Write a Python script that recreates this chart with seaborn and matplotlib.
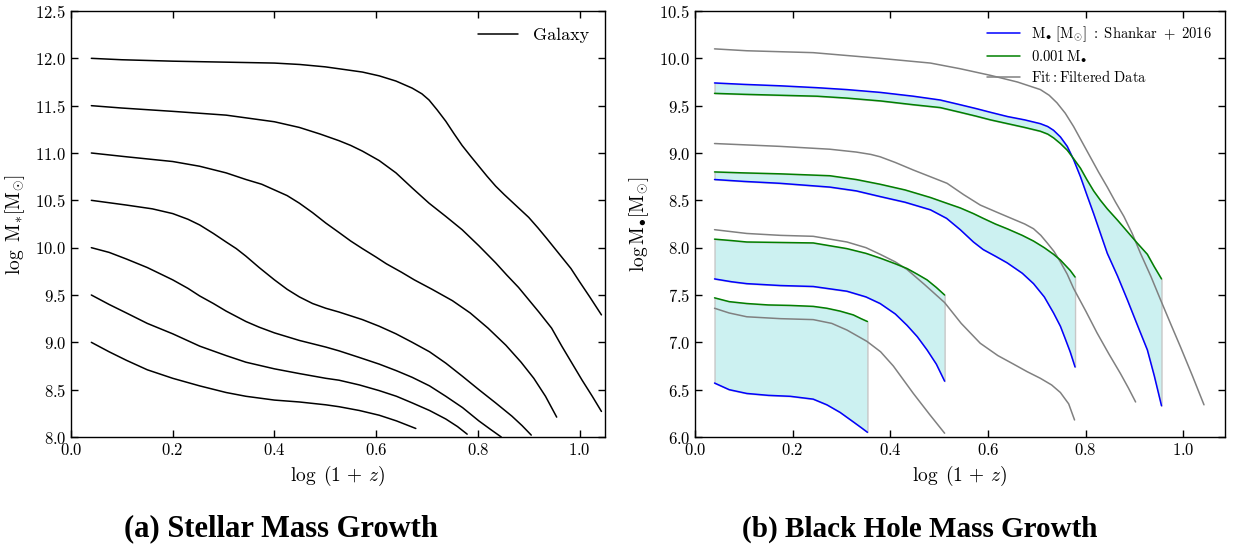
import numpy as np
import pandas as pd
import matplotlib
matplotlib.use("Agg")
import matplotlib.pyplot as plt
import seaborn as sns

# ---------------- data: (a) stellar mass growth ----------------
c1_x = [0.04, 0.1, 0.2, 0.3, 0.4, 0.45, 0.5, 0.54, 0.573, 0.606, 0.639, 0.671, 0.69, 0.704, 0.72, 0.737,
        0.753, 0.769, 0.786, 0.802, 0.818, 0.835, 0.852, 0.868, 0.884, 0.9, 0.918, 0.935, 0.95, 0.965,
        0.983, 1.0, 1.02, 1.043]
c1_y = [12.0, 11.985, 11.97, 11.96, 11.95, 11.935, 11.91, 11.88, 11.855, 11.815, 11.76, 11.685, 11.625,
        11.56, 11.455, 11.335, 11.205, 11.08, 10.965, 10.86, 10.755, 10.65, 10.56, 10.48, 10.4, 10.32, 10.21,
        10.1, 10.0, 9.9, 9.78, 9.64, 9.48, 9.29]
c2_x = [0.04, 0.1, 0.2, 0.305, 0.4, 0.449, 0.49, 0.527, 0.55, 0.573, 0.606, 0.639, 0.671, 0.704, 0.737,
        0.769, 0.802, 0.835, 0.857, 0.88, 0.9, 0.92, 0.945, 0.965, 0.985, 1.005, 1.025, 1.043]
c2_y = [11.5, 11.475, 11.44, 11.4, 11.33, 11.27, 11.2, 11.13, 11.08, 11.02, 10.92, 10.79, 10.63, 10.47,
        10.33, 10.19, 10.02, 9.84, 9.71, 9.58, 9.45, 9.32, 9.15, 8.96, 8.78, 8.6, 8.43, 8.27]
c3_x = [0.04, 0.109, 0.2, 0.253, 0.305, 0.344, 0.375, 0.4, 0.425, 0.449, 0.475, 0.501, 0.527, 0.55, 0.573,
        0.6, 0.62, 0.65, 0.675, 0.71, 0.75, 0.785, 0.82, 0.855, 0.885, 0.91, 0.933, 0.955]
c3_y = [11.0, 10.96, 10.91, 10.86, 10.79, 10.72, 10.67, 10.61, 10.55, 10.47, 10.37, 10.26, 10.16, 10.07,
        9.99, 9.9, 9.83, 9.74, 9.66, 9.56, 9.44, 9.31, 9.15, 8.97, 8.79, 8.62, 8.43, 8.21]
c4_x = [0.04, 0.109, 0.16, 0.2, 0.23, 0.253, 0.28, 0.305, 0.325, 0.344, 0.37, 0.4, 0.425, 0.449, 0.475,
        0.501, 0.527, 0.573, 0.606, 0.639, 0.671, 0.705, 0.737, 0.77, 0.802, 0.835, 0.867, 0.887, 0.905]
c4_y = [10.5, 10.45, 10.41, 10.36, 10.3, 10.24, 10.15, 10.06, 9.99, 9.91, 9.79, 9.66, 9.56, 9.48, 9.41,
        9.36, 9.32, 9.24, 9.17, 9.09, 9.0, 8.9, 8.78, 8.64, 8.5, 8.36, 8.22, 8.12, 8.02]
c5_x = [0.04, 0.075, 0.109, 0.15, 0.2, 0.23, 0.253, 0.28, 0.305, 0.344, 0.37, 0.4, 0.449, 0.501, 0.527,
        0.567, 0.606, 0.64, 0.671, 0.705, 0.737, 0.77, 0.802, 0.825, 0.846]
c5_y = [10.0, 9.95, 9.88, 9.79, 9.66, 9.57, 9.49, 9.41, 9.33, 9.22, 9.16, 9.1, 9.02, 8.95, 8.91,
        8.84, 8.77, 8.7, 8.63, 8.54, 8.43, 8.31, 8.17, 8.08, 8.0]
c6_x = [0.04, 0.075, 0.109, 0.15, 0.2, 0.253, 0.305, 0.344, 0.4, 0.449, 0.501, 0.527, 0.567, 0.606, 0.64,
        0.671, 0.705, 0.737, 0.76, 0.779]
c6_y = [9.5, 9.4, 9.31, 9.2, 9.09, 8.96, 8.86, 8.79, 8.72, 8.67, 8.62, 8.6, 8.55, 8.49, 8.43,
        8.36, 8.28, 8.19, 8.11, 8.03]
c7_x = [0.04, 0.075, 0.109, 0.15, 0.2, 0.253, 0.305, 0.344, 0.4, 0.449, 0.501, 0.527, 0.567, 0.606, 0.64, 0.678]
c7_y = [9.0, 8.9, 8.81, 8.71, 8.62, 8.54, 8.47, 8.43, 8.39, 8.37, 8.34, 8.32, 8.28, 8.23, 8.17, 8.09]

galaxy_curves = [(c1_x, c1_y), (c2_x, c2_y), (c3_x, c3_y), (c4_x, c4_y),
                 (c5_x, c5_y), (c6_x, c6_y), (c7_x, c7_y)]

# ---------------- data: (b) black hole mass growth ----------------
g1_x = [0.04, 0.1, 0.174, 0.25, 0.311, 0.38, 0.447, 0.502, 0.543, 0.575, 0.605, 0.64, 0.675, 0.707, 0.722,
        0.734, 0.748, 0.762, 0.775, 0.789, 0.802, 0.816, 0.83, 0.844, 0.865, 0.885, 0.905, 0.926, 0.94, 0.955]
g1_blue = [9.74, 9.725, 9.71, 9.69, 9.67, 9.64, 9.60, 9.56, 9.51, 9.47, 9.43, 9.385, 9.35, 9.31, 9.28,
           9.24, 9.17, 9.07, 8.93, 8.75, 8.56, 8.36, 8.15, 7.94, 7.7, 7.45, 7.19, 6.92, 6.65, 6.33]
g1_green = [9.63, 9.62, 9.61, 9.60, 9.58, 9.55, 9.51, 9.48, 9.43, 9.39, 9.35, 9.31, 9.27, 9.23, 9.20,
            9.16, 9.1, 9.03, 8.94, 8.84, 8.72, 8.60, 8.5, 8.41, 8.29, 8.17, 8.05, 7.93, 7.8, 7.67]
g1_fit_x = [0.04, 0.106, 0.242, 0.379, 0.482, 0.543, 0.605, 0.66, 0.707, 0.725, 0.741, 0.758, 0.775, 0.792,
            0.809, 0.826, 0.844, 0.861, 0.878, 0.895, 0.912, 0.933, 0.953, 0.975, 0.994, 1.018, 1.042]
g1_fit = [10.1, 10.08, 10.06, 10.0, 9.95, 9.89, 9.82, 9.75, 9.67, 9.61, 9.53, 9.42, 9.28, 9.12,
          8.96, 8.80, 8.64, 8.48, 8.33, 8.15, 7.94, 7.7, 7.45, 7.18, 6.95, 6.65, 6.34]

g2_x = [0.04, 0.1, 0.174, 0.276, 0.33, 0.379, 0.43, 0.482, 0.515, 0.543, 0.570, 0.59, 0.615, 0.639, 0.67,
        0.693, 0.715, 0.734, 0.748, 0.757, 0.768, 0.778]
g2_blue = [8.72, 8.70, 8.68, 8.64, 8.60, 8.54, 8.48, 8.40, 8.31, 8.19, 8.06, 7.98, 7.91, 7.84, 7.73,
           7.62, 7.48, 7.31, 7.17, 7.05, 6.9, 6.74]
g2_green = [8.80, 8.79, 8.78, 8.76, 8.72, 8.67, 8.61, 8.53, 8.47, 8.42, 8.36, 8.31, 8.25, 8.20, 8.13,
            8.07, 8.00, 7.93, 7.87, 7.82, 7.76, 7.69]
g2_fit_x = [0.04, 0.174, 0.276, 0.33, 0.36, 0.379, 0.41, 0.447, 0.516, 0.55, 0.584, 0.62, 0.652, 0.675,
            0.693, 0.708, 0.721, 0.735, 0.748, 0.762, 0.775, 0.8, 0.823, 0.847, 0.871, 0.887, 0.902]
g2_fit = [9.1, 9.07, 9.04, 9.01, 8.985, 8.96, 8.9, 8.82, 8.68, 8.56, 8.45, 8.37, 8.30, 8.25,
          8.2, 8.13, 8.05, 7.96, 7.85, 7.72, 7.57, 7.33, 7.1, 6.88, 6.67, 6.52, 6.37]

g3_x = [0.04, 0.075, 0.106, 0.175, 0.242, 0.311, 0.35, 0.379, 0.41, 0.434, 0.455, 0.475, 0.494, 0.511]
g3_blue = [7.67, 7.64, 7.62, 7.60, 7.59, 7.54, 7.48, 7.41, 7.30, 7.18, 7.06, 6.92, 6.77, 6.59]
g3_green = [8.09, 8.075, 8.06, 8.055, 8.05, 7.99, 7.94, 7.89, 7.83, 7.78, 7.72, 7.66, 7.58, 7.50]
g3_fit_x = [0.04, 0.106, 0.175, 0.242, 0.311, 0.35, 0.379, 0.41, 0.434, 0.47, 0.511, 0.545, 0.584, 0.62,
            0.652, 0.68, 0.707, 0.73, 0.748, 0.765, 0.777]
g3_fit = [8.19, 8.15, 8.13, 8.12, 8.06, 8.0, 7.93, 7.85, 7.77, 7.61, 7.42, 7.2, 6.99, 6.86,
          6.77, 6.69, 6.62, 6.55, 6.47, 6.35, 6.18]

g4_x = [0.04, 0.07, 0.106, 0.15, 0.195, 0.242, 0.27, 0.297, 0.324, 0.34, 0.353]
g4_blue = [6.57, 6.5, 6.46, 6.44, 6.43, 6.40, 6.34, 6.26, 6.16, 6.1, 6.05]
g4_green = [7.47, 7.43, 7.41, 7.395, 7.39, 7.38, 7.36, 7.33, 7.29, 7.25, 7.22]
g4_fit_x = [0.04, 0.07, 0.106, 0.175, 0.242, 0.28, 0.311, 0.352, 0.38, 0.406, 0.447, 0.48, 0.511]
g4_fit = [7.36, 7.31, 7.27, 7.25, 7.24, 7.2, 7.13, 7.01, 6.9, 6.75, 6.46, 6.24, 6.04]

bh_groups = [(g1_x, g1_blue, g1_green, g1_fit_x, g1_fit),
             (g2_x, g2_blue, g2_green, g2_fit_x, g2_fit),
             (g3_x, g3_blue, g3_green, g3_fit_x, g3_fit),
             (g4_x, g4_blue, g4_green, g4_fit_x, g4_fit)]

left_yticks = [8.0, 8.5, 9.0, 9.5, 10.0, 10.5, 11.0, 11.5, 12.0, 12.5]
right_yticks = [6.0, 6.5, 7.0, 7.5, 8.0, 8.5, 9.0, 9.5, 10.0, 10.5]
xticks = [0.0, 0.2, 0.4, 0.6, 0.8, 1.0]

# ---------------- style ----------------
sns.set_style("ticks")
plt.rcParams.update({
    "font.family": "serif",
    "font.serif": ["cmr10", "DejaVu Serif"],
    "mathtext.fontset": "cm",
    "axes.formatter.use_mathtext": True,
    "axes.linewidth": 1.0,
    "axes.edgecolor": "black",
    "axes.labelcolor": "black",
    "text.color": "black",
    "xtick.direction": "in",
    "ytick.direction": "in",
    "xtick.top": True,
    "ytick.right": True,
    "xtick.major.size": 5,
    "ytick.major.size": 5,
    "xtick.color": "black",
    "ytick.color": "black",
    "axes.unicode_minus": False,
})

fig = plt.figure(figsize=(12.35, 5.5), dpi=100)
axL = fig.add_axes([71 / 1235, 1 - 437 / 550, (605 - 71) / 1235, (437 - 11) / 550])
axR = fig.add_axes([695 / 1235, 1 - 437 / 550, (1225 - 695) / 1235, (437 - 11) / 550])

# left panel
for i, (cx, cy) in enumerate(galaxy_curves):
    df = pd.DataFrame({"x": cx, "y": cy})
    sns.lineplot(data=df, x="x", y="y", ax=axL, color="black", lw=1.1,
                 sort=False, estimator=None, label="Galaxy" if i == 0 else None)

axL.set_xlim(0, 1.05)
axL.set_ylim(8.0, 12.5)
axL.set_xticks(xticks)
axL.set_yticks(left_yticks)
axL.set_xlabel(r"$\log\ (1\,+\,z)$", fontsize=14, labelpad=4)
axL.set_ylabel(r"$\log\ \mathrm{M}_{*}[\mathrm{M}_{\odot}]$", fontsize=14, labelpad=6)
axL.legend(loc="upper right", frameon=False, fontsize=13, handlelength=2.2)

# right panel
fill_face = (0.80, 0.945, 0.945)
for i, (gx, gb, gg, fx, fy) in enumerate(bh_groups):
    axR.fill_between(gx, gb, gg, facecolor=fill_face, edgecolor=(0.78, 0.78, 0.78),
                     lw=1.0, zorder=1)
    sns.lineplot(x=gx, y=gb, ax=axR, color="blue", lw=1.1, sort=False, estimator=None,
                 label=r"$\mathrm{M}_{\bullet}\ [\mathrm{M}_{\odot}]\ :\ \mathrm{Shankar}\ +\ 2016$" if i == 0 else None,
                 zorder=3)
    sns.lineplot(x=gx, y=gg, ax=axR, color="green", lw=1.1, sort=False, estimator=None,
                 label=r"$0.001\,\mathrm{M}_{\bullet}$" if i == 0 else None, zorder=3)
    sns.lineplot(x=fx, y=fy, ax=axR, color="grey", lw=1.1, sort=False, estimator=None,
                 label=r"$\mathrm{Fit}:\mathrm{Filtered\ Data}$" if i == 0 else None, zorder=2)

axR.set_xlim(0, 1.085)
axR.set_ylim(6.0, 10.5)
axR.set_xticks(xticks)
axR.set_yticks(right_yticks)
axR.set_xlabel(r"$\log\ (1\,+\,z)$", fontsize=14, labelpad=4)
axR.set_ylabel(r"$\log \mathrm{M}_{\bullet}[\mathrm{M}_{\odot}]$", fontsize=14, labelpad=6)
axR.legend(loc="upper right", frameon=False, fontsize=10.5, handlelength=2.2,
           labelspacing=0.35)

for ax in (axL, axR):
    ax.tick_params(labelsize=12, width=1.0)
    for s in ax.spines.values():
        s.set_visible(True)
        s.set_color("black")

fig.text(281 / 1235, 1 - 529 / 550, "(a) Stellar Mass Growth", ha="center", va="center",
         fontsize=22, fontweight="bold", family="Liberation Serif", color="black")
fig.text(920 / 1235, 1 - 529 / 550, "(b) Black Hole Mass Growth", ha="center", va="center",
         fontsize=21, fontweight="bold", family="Liberation Serif", color="black")

fig.savefig("out.png", dpi=100)
